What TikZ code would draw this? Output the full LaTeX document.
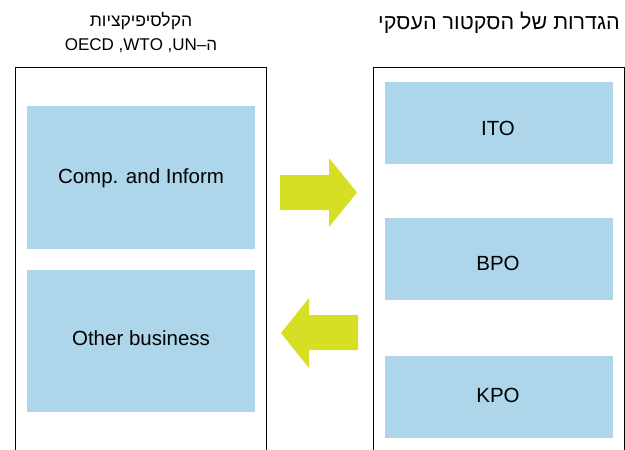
\documentclass[tikz,border=0pt]{standalone}
\usepackage{fontspec}
\setmainfont{Liberation Sans}
\newfontfamily\hebfont[Script=Hebrew]{Liberation Sans}
\TeXXeTstate=1
\definecolor{boxblue}{RGB}{174,214,234}
\definecolor{arrowgreen}{RGB}{214,223,35}
\tikzset{
  panel/.style={draw=black, line width=1pt},
  cell/.style={fill=boxblue, draw=none, inner sep=0pt, anchor=north west},
  lbl/.style={inner sep=0pt, font=\fontsize{20.5}{22}\selectfont},
  blockarrow/.style={fill=arrowgreen, draw=none},
  title/.style={align=center, inner sep=0pt}
}
\begin{document}
\begin{tikzpicture}[x=1pt,y=-1pt]
\useasboundingbox (0,0) rectangle (625,450);
% panels
\draw[panel] (15.5,452) -- (15.5,67.5) -- (266,67.5) -- (266,452);
\draw[panel] (373.5,452) -- (373.5,67) -- (624,67) -- (624,452);
% titles
\node[title, font=\fontsize{17.5}{20}\selectfont] (lt1) at (141,21) {\hebfont\beginR הקלסיפיקציות\endR};
\node[title, font=\fontsize{17}{20}\selectfont] (lt2) at (141,46) {\hebfont\beginR ה–\beginL UN\endL, \beginL WTO\endL, \beginL OECD\endL\endR};
\node[title, font=\fontsize{21.5}{23}\selectfont] (rt) at (499,23) {\hebfont\beginR הגדרות של הסקטור העסקי\endR};
% left cells
\node[cell, minimum width=228pt, minimum height=143pt] (comp) at (27,106) {};
\node[lbl] (compl) at (141,178) {Comp. and Inform};
\node[cell, minimum width=228pt, minimum height=142pt] (other) at (27,269.5) {};
\node[lbl] (otherl) at (141,338.5) {Other business};
% right cells
\node[cell, minimum width=228pt, minimum height=82pt] (ito) at (385,82) {};
\node[lbl] (itol) at (498,128) {ITO};
\node[cell, minimum width=228pt, minimum height=82pt] (bpo) at (385,218) {};
\node[lbl] (bpol) at (498,263) {BPO};
\node[cell, minimum width=228pt, minimum height=82pt] (kpo) at (385,355.5) {};
\node[lbl] (kpol) at (498,395) {KPO};
% arrows
\fill[blockarrow] (280,175) -- (329,175) -- (329,158) -- (357,192.5) -- (329,227) -- (329,210) -- (280,210) -- cycle;
\fill[blockarrow] (358,315) -- (309,315) -- (309,298) -- (281,333) -- (309,368) -- (309,350) -- (358,350) -- cycle;
\end{tikzpicture}
\end{document}
